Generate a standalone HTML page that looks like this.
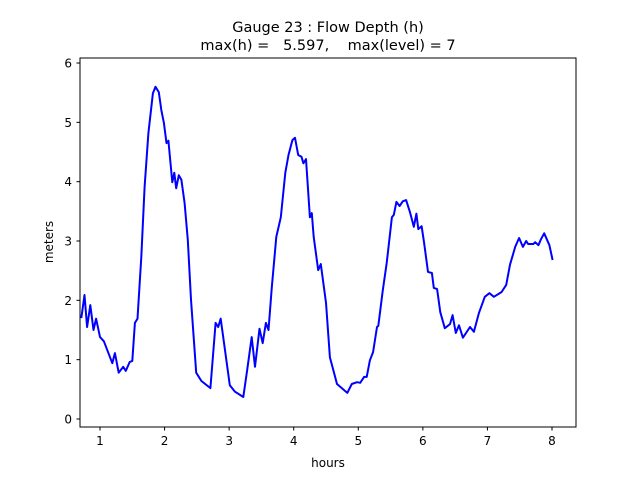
<!DOCTYPE html>
<html><head><meta charset="utf-8"><style>
body{margin:0;background:#fff;font-family:"Liberation Sans","DejaVu Sans",sans-serif}
svg text{font-family:"DejaVu Sans","Liberation Sans",sans-serif;fill:#000}
</style></head><body>
<svg id="chart" width="640" height="480" xmlns="http://www.w3.org/2000/svg">
<rect width="640" height="480" fill="#fff"/>
<text x="328" y="32" text-anchor="middle" font-size="14.5">Gauge 23 : Flow Depth (h)</text>
<text x="328" y="50" text-anchor="middle" font-size="14.5" xml:space="preserve">max(h) =   5.597,    max(level) = 7</text>
<g id="plot"></g>
<rect x="80" y="58" width="496" height="369" fill="none" stroke="#000" stroke-width="1"/>
<text x="328" y="467" text-anchor="middle" font-size="12">hours</text>
<text transform="translate(53,242) rotate(-90)" text-anchor="middle" font-size="12">meters</text>
</svg>
<script>
const hours=[0.71,0.76,0.80,0.85,0.90,0.94,1.00,1.06,1.19,1.23,1.29,1.36,1.40,1.46,1.50,1.54,1.58,1.64,1.69,1.75,1.82,1.86,1.91,1.95,1.99,2.03,2.06,2.12,2.15,2.18,2.22,2.26,2.31,2.36,2.41,2.49,2.57,2.71,2.79,2.83,2.87,2.93,3.01,3.09,3.22,3.28,3.35,3.40,3.47,3.52,3.57,3.61,3.66,3.73,3.80,3.87,3.92,3.98,4.02,4.07,4.12,4.15,4.19,4.25,4.28,4.31,4.38,4.42,4.50,4.56,4.67,4.83,4.90,4.98,5.03,5.09,5.13,5.18,5.23,5.29,5.31,5.38,5.44,5.52,5.55,5.59,5.64,5.69,5.74,5.80,5.86,5.90,5.93,5.98,6.02,6.08,6.14,6.17,6.22,6.27,6.34,6.42,6.46,6.51,6.56,6.62,6.73,6.79,6.87,6.96,7.03,7.10,7.22,7.29,7.35,7.43,7.49,7.55,7.60,7.63,7.71,7.74,7.79,7.83,7.88,7.96,8.01];
const depth=[1.70,2.09,1.55,1.92,1.50,1.69,1.38,1.31,0.94,1.11,0.78,0.88,0.81,0.96,0.98,1.62,1.69,2.73,3.91,4.82,5.49,5.60,5.51,5.21,4.99,4.65,4.69,3.99,4.15,3.89,4.11,4.03,3.64,3.02,2.01,0.78,0.64,0.52,1.62,1.55,1.69,1.21,0.57,0.46,0.37,0.83,1.38,0.88,1.52,1.28,1.62,1.50,2.22,3.07,3.40,4.15,4.45,4.70,4.74,4.45,4.42,4.31,4.38,3.40,3.47,3.07,2.51,2.61,1.96,1.04,0.59,0.44,0.59,0.62,0.61,0.71,0.71,0.99,1.13,1.55,1.57,2.17,2.63,3.40,3.44,3.66,3.59,3.67,3.69,3.49,3.24,3.46,3.20,3.25,2.97,2.48,2.46,2.21,2.19,1.80,1.53,1.60,1.75,1.45,1.58,1.37,1.55,1.47,1.79,2.06,2.12,2.06,2.14,2.26,2.60,2.90,3.05,2.90,3.00,2.95,2.95,2.98,2.93,3.03,3.13,2.93,2.68];
const xTicks=[1,2,3,4,5,6,7,8];
const yTicks=[0,1,2,3,4,5,6];
const NS="http://www.w3.org/2000/svg";
const xs=h=>100+(h-1)*64.571;
const ys=m=>419-m*59.33;
const g=document.getElementById('plot');
function mk(t,a){const e=document.createElementNS(NS,t);for(const k in a)e.setAttribute(k,a[k]);g.appendChild(e);return e;}
xTicks.forEach(v=>{
  const l=mk('line',{x1:xs(v),x2:xs(v),y1:427,y2:430.5,stroke:'#000'});
  
  
  const t=mk('text',{x:xs(v),y:445,'text-anchor':'middle','font-size':12});
  t.textContent=v;
  
  
});
yTicks.forEach(v=>{
  const l=mk('line',{x1:76.5,x2:80,y1:ys(v),y2:ys(v),stroke:'#000'});
  
  
  const t=mk('text',{x:72,y:ys(v)+4.5,'text-anchor':'end','font-size':12});
  t.textContent=v;
  
  
});
const pts=hours.map((h,i)=>xs(h).toFixed(1)+','+ys(depth[i]).toFixed(1)).join(' ');
const line=mk('polyline',{points:pts,fill:'none',stroke:'#0000ff','stroke-width':2,'stroke-linejoin':'round'});


</script>
</body></html>
